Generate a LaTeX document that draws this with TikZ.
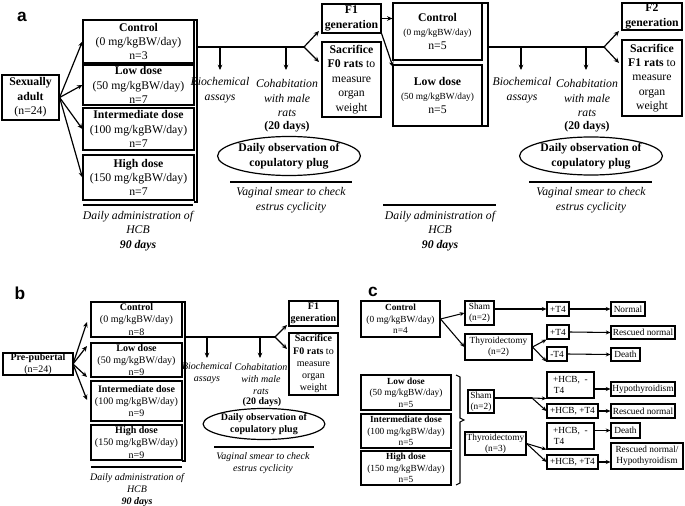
\documentclass[tikz,border=0pt]{standalone}
\usepackage{fontspec}
\setmainfont{Liberation Serif}
\newfontfamily\lab{Liberation Sans}
\usetikzlibrary{arrows.meta,shapes.geometric}
\newcommand\bx[7][]{\node[box,#1,minimum width={(#4-#2)*0.75pt},minimum height={(#5-#3)*0.75pt}] (#6) at ({(#2+#4)/2},{(#3+#5)/2}) {#7};}
\begin{document}
\begin{tikzpicture}[x=0.75pt,y=-0.75pt,
  box/.style={draw,line width=0.9pt,inner sep=0pt,align=center,font=\fontsize{8.8}{10.8}\selectfont},
  bb/.style={box,font=\fontsize{7.5}{9.2}\selectfont},
  cb/.style={box,line width=0.8pt,font=\fontsize{7}{8.6}\selectfont},
  ar/.style={-{Stealth[length=4pt,width=3.5pt]},line width=0.9pt},
  it/.style={font=\fontsize{8.8}{10.8}\selectfont\itshape,align=center,inner sep=0pt},
  itb/.style={font=\fontsize{7.5}{9}\selectfont\itshape,align=center,inner sep=0pt},
  ln/.style={line width=0.9pt}]
\useasboundingbox (0,0) rectangle (685,506);
% ---------- panel a
\node[font=\lab\bfseries\fontsize{13}{13}\selectfont] (la) at (22,17) {a};
\bx{2}{75}{59}{120}{sa}{\textbf{Sexually}\\\textbf{adult}\\(n=24)}
\bx{83}{20}{194}{63}{c1}{\textbf{Control}\\(0 mg/kgBW/day)\\n=3}
\bx{83}{65}{194}{105}{l1}{\textbf{Low dose}\\(50 mg/kgBW/day)\\n=7}
\bx{83}{108}{194}{150}{i1}{\textbf{Intermediate dose}\\(100 mg/kgBW/day)\\n=7}
\bx{83}{155}{194}{200}{h1}{\textbf{High dose}\\(150 mg/kgBW/day)\\n=7}
\foreach \t in {c1,l1,i1,h1} \draw[ar] (sa.east) -- (\t.west);
\draw[ln] (194,20) -- (197,20) -- (197,202) -- (194,202);
\coordinate (a1) at (197,47); \coordinate (f1) at (304,47);
\bx{322}{4}{381}{33}{g1}{\textbf{F1}\\\textbf{generation}}
\bx{322}{42}{381}{117}{s1}{\textbf{Sacrifice}\\\textbf{F0 rats} to\\measure\\organ\\weight}
\draw[ln] (a1) -- (f1);
\draw[ar] (f1) -- (319,31); \draw[ar] (f1) -- (319,62);
\coordinate (d1) at (220,47); \coordinate (d2) at (286,47);
\draw[ar] (d1) -- ++(0,23); \draw[ar] (d2) -- ++(0,23);
\node[it] (ba1) at (220,90) {Biochemical\\assays};
\node[it] (co1) at (287,98) {Cohabitation\\with male\\rats};
\node[font=\fontsize{8.8}{10}\selectfont\bfseries] (tw1) at (287,127) {(20 days)};
\node[draw,ellipse,line width=0.9pt,minimum width=125*0.75pt,minimum height=39*0.75pt,inner sep=0pt,align=center,font=\fontsize{8.8}{10.8}\selectfont\bfseries] (e1) at (289,156) {Daily observation of\\copulatory plug};
\draw[ln] (230,182) -- (352,182);
\node[it] (v1) at (291,200) {Vaginal smear to check\\estrus cyclicity};
\draw[ln] (83,205) -- (193,205);
\node[it] (da1) at (138,231) {Daily administration of\\HCB\\\textbf{90 days}};
% second generation
\bx{393}{3}{482}{60}{c2}{\textbf{Control}\\{\fontsize{7}{8.5}\selectfont(0 mg/kgBW/day)}\\n=5}
\bx{393}{65}{482}{126}{l2}{\textbf{Low dose}\\{\fontsize{7}{8.5}\selectfont(50 mg/kgBW/day)}\\n=5}
\draw[ar] (g1.east) -- (c2.west|-g1.east);
\draw[ar] (g1.south east) -- (393,67);
\draw[ln] (482,3) -- (488,3) -- (488,126) -- (482,126);
\coordinate (a2) at (488,47); \coordinate (f2) at (604,47);
\bx{622}{3}{682}{30}{g2}{\textbf{F2}\\\textbf{generation}}
\bx{622}{40}{682}{116}{s2}{\textbf{Sacrifice}\\\textbf{F1 rats} to\\measure\\organ\\weight}
\draw[ln] (a2) -- (f2);
\draw[ar] (f2) -- (619,31); \draw[ar] (f2) -- (619,63);
\coordinate (d3) at (521,47); \coordinate (d4) at (586,47);
\draw[ar] (d3) -- ++(0,23); \draw[ar] (d4) -- ++(0,23);
\node[it] (ba2) at (522,90) {Biochemical\\assays};
\node[it] (co2) at (587,98) {Cohabitation\\with male\\rats};
\node[font=\fontsize{8.8}{10}\selectfont\bfseries] (tw2) at (587,127) {(20 days)};
\node[draw,ellipse,line width=0.9pt,minimum width=127*0.75pt,minimum height=38*0.75pt,inner sep=0pt,align=center,font=\fontsize{8.8}{10.8}\selectfont\bfseries] (e2) at (591,156) {Daily observation of\\copulatory plug};
\draw[ln] (529,182) -- (652,182);
\node[it] (v2) at (591,200) {Vaginal smear to check\\estrus cyclicity};
\draw[ln] (383,205) -- (496,205);
\node[it] (da2) at (440,231) {Daily administration of\\HCB\\\textbf{90 days}};
% ---------- panel b
\node[font=\lab\bfseries\fontsize{13}{13}\selectfont] (lb) at (20,293) {b};
\bx[bb]{3}{353}{73}{375}{pp}{\textbf{Pre-pubertal}\\(n=24)}
\bx[bb]{91}{302}{182}{337}{c3}{\textbf{Control}\\(0 mg/kgBW/day)\\n=8}
\bx[bb]{91}{343}{182}{377}{l3}{\textbf{Low dose}\\(50 mg/kgBW/day)\\n=9}
\bx[bb]{91}{381}{182}{421}{i3}{\textbf{Intermediate dose}\\(100 mg/kgBW/day)\\n=9}
\bx[bb]{91}{425}{182}{460}{h3}{\textbf{High dose}\\(150 mg/kgBW/day)\\n=9}
\coordinate (pf) at (73,364);
\draw[ar] (pf) -- (87,322); \draw[ar] (pf) -- (87,346);
\draw[ar] (pf) -- (87,377); \draw[ar] (pf) -- (87,400);
\draw[ln] (182,302) -- (185,302) -- (185,461) -- (182,461);
\coordinate (a3) at (185,337); \coordinate (f3) at (275,337);
\bx[bb]{289}{301}{338}{326}{g3}{\textbf{F1}\\\textbf{generation}}
\bx[bb]{289}{333}{338}{395}{s3}{\textbf{Sacrifice}\\\textbf{F0 rats} to\\measure\\organ\\weight}
\draw[ln] (a3) -- (f3);
\draw[ar] (f3) -- (287,325); \draw[ar] (f3) -- (287,349);
\coordinate (d5) at (207,337); \coordinate (d6) at (260,337);
\draw[ar] (d5) -- ++(0,21); \draw[ar] (d6) -- ++(0,21);
\node[itb] (ba3) at (207,373) {Biochemical\\assays};
\node[itb] (co3) at (261,379) {Cohabitation\\with male\\rats};
\node[font=\fontsize{7.5}{9}\selectfont\bfseries] (tw3) at (262,402) {(20 days)};
\node[draw,ellipse,line width=0.9pt,minimum width=104*0.75pt,minimum height=31*0.75pt,inner sep=0pt,align=center,font=\fontsize{7.5}{9}\selectfont\bfseries] (e3) at (264,424) {Daily observation of\\copulatory plug};
\draw[ln] (214,447) -- (314,447);
\node[itb] (v3) at (263,463) {Vaginal smear to check\\estrus cyclicity};
\draw[ln] (91,467) -- (182,467);
\node[itb] (da3) at (137,490) {Daily administration of\\HCB\\\textbf{90 days}};
% ---------- panel c
\begin{scope}[ar/.style={-{Stealth[length=3.5pt,width=3pt]},line width=0.8pt},ln/.style={line width=0.8pt}]
\node[font=\lab\bfseries\fontsize{13}{13}\selectfont] (lc) at (373,292) {c};
\bx[cb]{361}{301}{440}{337}{cc}{\textbf{Control}\\(0 mg/kgBW/day)\\n=4}
\bx[cb]{465}{301}{494}{325}{sh}{Sham\\(n=2)}
\bx[cb]{465}{334}{532}{360}{ty}{Thyroidectomy\\(n=2)}
\draw[ar] (cc.east) -- (sh.west); \draw[ar] (cc.east) -- (ty.west);
\bx[cb]{547}{302}{569}{316}{p1}{+T4}
\bx[cb]{611}{302}{645}{316}{no}{Normal}
\draw[ar] (sh.east|-p1) -- (p1.west); \draw[ar] (p1.east) -- (no.west);
\bx[cb]{547}{325}{569}{339}{p2}{+T4}
\bx[cb]{547}{347}{567}{361}{m2}{-T4}
\bx[cb]{611}{326}{675}{339}{rn}{Rescued normal}
\bx[cb]{611}{348}{640}{361}{de}{Death}
\coordinate (tf) at (ty.east);
\draw[ar] (tf) -- (p2.south west); \draw[ar] (tf) -- (m2.south west);
\draw[ar] (p2.east) -- (rn.west); \draw[ar] (m2.east) -- (de.west);
\bx[cb]{361}{375}{451}{410}{lc2}{\textbf{Low dose}\\(50 mg/kgBW/day)\\n=5}
\bx[cb]{361}{414}{451}{448}{ic2}{\textbf{Intermediate dose}\\(100 mg/kgBW/day)\\n=5}
\bx[cb]{361}{451}{451}{485}{hc2}{\textbf{High dose}\\(150 mg/kgBW/day)\\n=5}
\draw[ln] (456,375) -- (460,377) -- (460,418) -- (464,420) -- (460,422) -- (460,483) -- (456,485);
\bx[cb]{468}{390}{494}{413}{sh2}{Sham\\(n=2)}
\bx[cb]{465}{432}{526}{455}{ty2}{Thyroidectomy\\(n=3)}
\bx[cb]{547}{372}{594}{398}{q1}{+HCB,\ \ -\\\hspace*{-17pt}T4}
\bx[cb]{547}{404}{598}{418}{q2}{+HCB, +T4}
\bx[cb]{611}{382}{675}{396}{hy}{Hypothyroidism}
\bx[cb]{611}{404}{675}{418}{rn2}{Rescued normal}
\coordinate (sf) at (532,398);
\draw[ln] (sh2.east|-sf) -- (sf);
\draw[ar] (sf) -- (q1.south west); \draw[ar] (sf) -- (q2.west);
\draw[ar] (q1.east|-hy) -- (hy.west); \draw[ar] (q2.east) -- (rn2.west);
\bx[cb]{547}{423}{594}{449}{q3}{+HCB,\ \ -\\\hspace*{-17pt}T4}
\bx[cb]{547}{455}{598}{469}{q4}{+HCB, +T4}
\bx[cb]{611}{423}{640}{438}{de2}{Death}
\bx[cb]{611}{443}{683}{469}{rh}{Rescued normal/\\Hypothyroidism}
\coordinate (tf2) at (ty2.east);
\draw[ar] (tf2) -- (q3.south west); \draw[ar] (tf2) -- (q4.west);
\draw[ar] (q3.east|-de2) -- (de2.west); \draw[ar] (q4.east) -- (rh.west|-q4.east);
\end{scope}
\end{tikzpicture}
\end{document}
